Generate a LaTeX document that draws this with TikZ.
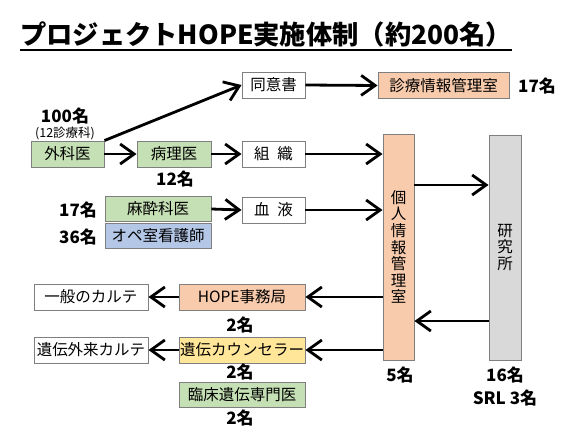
\documentclass[tikz,border=0pt]{standalone}
\usepackage{fontspec}
\setmainfont{Noto Sans CJK JP}
\usetikzlibrary{arrows.meta,calc}
\definecolor{bgreen}{HTML}{C5E0B4}
\definecolor{bsalmon}{HTML}{F8CBAD}
\definecolor{bgray}{HTML}{D9D9D9}
\definecolor{bblue}{HTML}{B4C7E7}
\definecolor{byellow}{HTML}{FFE699}
\definecolor{edge}{HTML}{7F7F7F}
\tikzset{
  box/.style={draw=edge, line width=0.9pt, minimum height=26pt, inner sep=0pt, anchor=center,
    font=\fontsize{15.5}{16}\selectfont},
  cnt/.style={inner sep=0pt, font=\bfseries\fontsize{17}{18}\selectfont},
  arr/.style={line width=2.8pt, -{Straight Barb[length=14pt,width=20pt]}},
}
\begin{document}
\begin{tikzpicture}[x=1pt,y=-1pt]
\useasboundingbox (0,0) rectangle (571,442);
% title
\node[inner sep=0pt, anchor=base west, font=\bfseries\fontsize{26.3}{28}\selectfont] (title) at (20,44)
  {プロジェクトHOPE実施体制（約200名）};
\draw[line width=1.6pt] ($(title.base west)+(0,6)$) -- ($(title.base east)+(0,6)$);

% boxes
\node[box, fill=white, minimum width=63pt] (doui) at (273.5,85) {同意書};
\node[box, fill=bsalmon, minimum width=131pt] (shinryo) at (443.5,85.5) {診療情報管理室};
\node[box, fill=bgreen, minimum width=73pt] (geka) at (67.5,154) {外科医};
\node[box, fill=bgreen, minimum width=74pt] (byouri) at (174,154) {病理医};
\node[box, fill=white, minimum width=63pt] (soshiki) at (273.5,154) {組\enspace 織};
\node[box, fill=bgreen, minimum width=106pt, minimum height=25pt] (masui) at (158,209) {麻酔科医};
\node[box, fill=bblue, minimum width=106pt, minimum height=25pt] (ope) at (158,236) {オペ室看護師};
\node[box, fill=white, minimum width=63pt] (ketsu) at (273.5,210) {血\enspace 液};
\node[box, fill=bsalmon, minimum width=31pt, minimum height=226pt,
  align=center, font=\fontsize{15.5}{16.6}\selectfont] (kojin) at (398.5,247)
  {個\\人\\情\\報\\管\\理\\室};
\node[box, fill=bgray, minimum width=32pt, minimum height=225pt,
  align=center, font=\fontsize{15.5}{16.6}\selectfont] (ken) at (505,247.5)
  {研\\究\\所};
\node[box, fill=bsalmon, minimum width=126pt] (hope) at (242,297) {HOPE事務局};
\node[box, fill=byellow, minimum width=126pt] (counsel) at (242,350) {遺伝カウンセラー};
\node[box, fill=bgreen, minimum width=126pt, minimum height=25pt] (rinsho) at (242,394.5) {臨床遺伝専門医};
\node[box, fill=white, minimum width=114pt] (ippan) at (91,297) {一般のカルテ};
\node[box, fill=white, minimum width=114pt] (iden) at (91,350) {遺伝外来カルテ};

% counts
\node[cnt] (c100) at (65,116) {100名};
\node[inner sep=0pt, font=\fontsize{12.5}{13}\selectfont] (c12ka) at (65,133) {(12診療科)};
\node[cnt] (c12) at (175,179) {12名};
\node[cnt] (c17s) at (537,86) {17名};
\node[cnt] (c17m) at (78,210) {17名};
\node[cnt] (c36) at (78,237) {36名};
\node[cnt] (c2a) at (240,325) {2名};
\node[cnt] (c2b) at (240,372) {2名};
\node[cnt] (c2c) at (240,418) {2名};
\node[cnt] (c5) at (400,375) {5名};
\node[cnt] (c16) at (505,375) {16名};
\node[cnt] (csrl) at (505,398) {SRL 3名};

% arrows
\draw[arr] (geka.north east) -- (doui.west);
\draw[arr] (geka.east) -- (byouri.west);
\draw[arr] (byouri.east) -- (soshiki.west);
\draw[arr] (doui.east) -- (shinryo.west);
\draw[arr] (masui.east) -- (ketsu.west);
\draw[arr] (soshiki.east) -- (soshiki.east -| kojin.west);
\draw[arr] (ketsu.east) -- (ketsu.east -| kojin.west);
\draw[arr] (kojin.east |- 0,185) -- (ken.west |- 0,185);
\draw[arr] (ken.west |- 0,321) -- (kojin.east |- 0,321);
\draw[arr] (kojin.west |- hope.east) -- (hope.east);
\draw[arr] (kojin.west |- counsel.east) -- (counsel.east);
\draw[arr] (hope.west) -- (ippan.east);
\draw[arr] (counsel.west) -- (iden.east);
\end{tikzpicture}
\end{document}
